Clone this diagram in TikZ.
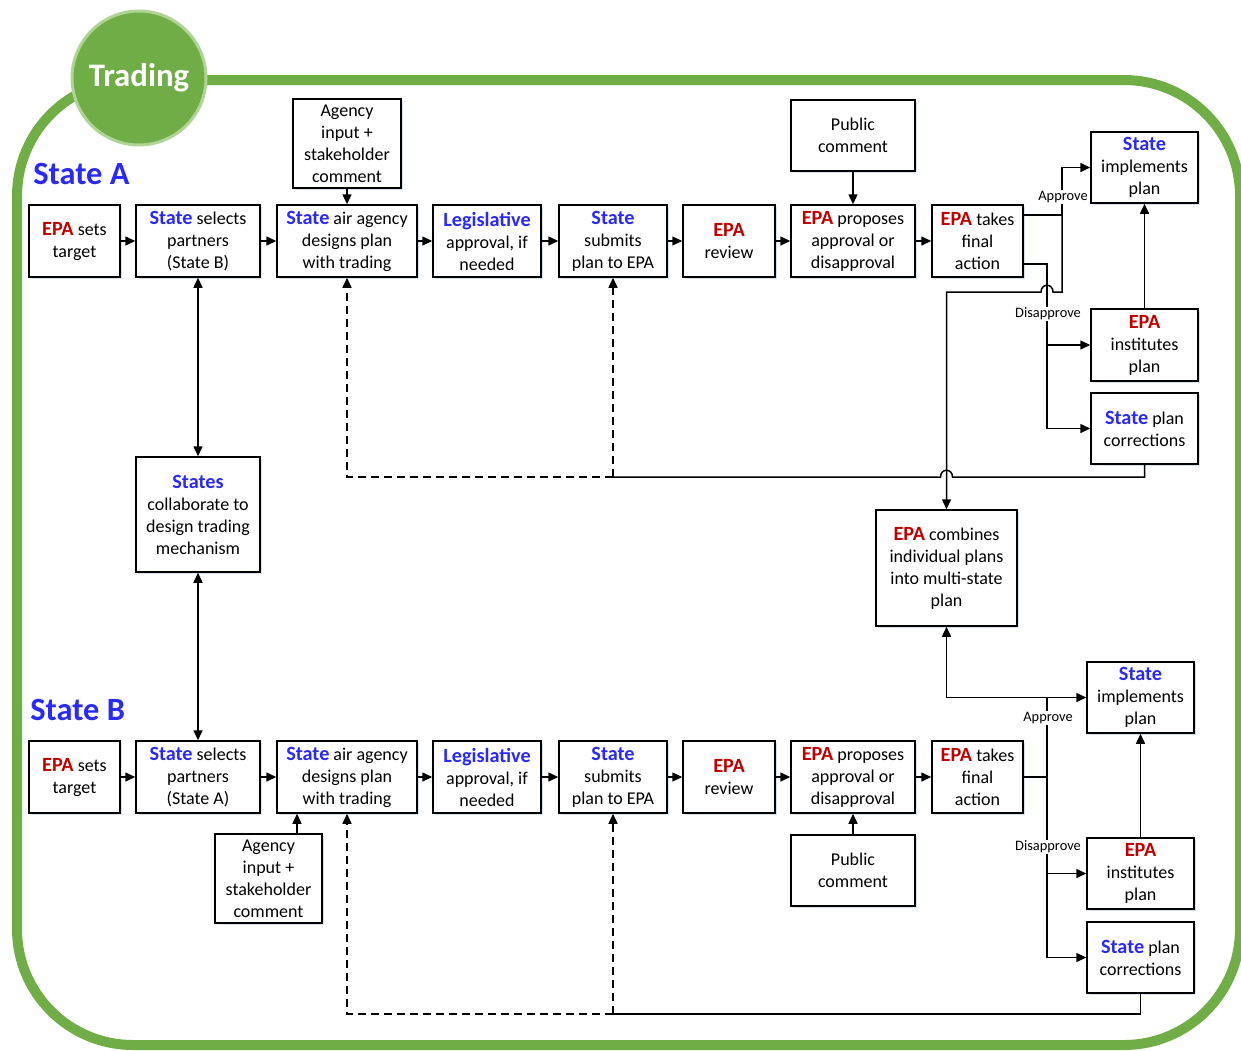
\documentclass[tikz,border=0pt]{standalone}
\usepackage{fontspec}
\setmainfont{Carlito}
\usetikzlibrary{arrows.meta,shadows,calc}
\definecolor{epared}{RGB}{192,0,0}
\definecolor{stblue}{RGB}{40,40,255}
\definecolor{trgreen}{RGB}{112,173,71}
\definecolor{trlight}{RGB}{175,212,150}
\definecolor{shadowc}{RGB}{200,212,230}
\newcommand{\EPAr}{\textcolor{epared}{\fontsize{10.1}{11}\selectfont\textbf{EPA}}}
\newcommand{\BlueB}[1]{\textcolor{stblue}{\fontsize{10.1}{11}\selectfont\textbf{#1}}}
\begin{document}
\begin{tikzpicture}[x=0.5pt,y=-0.5pt,
  box/.style 2 args={draw,line width=0.75pt,fill=white,align=center,inner sep=1pt,
    minimum width=#1*0.5pt,minimum height=#2*0.5pt,font=\fontsize{9}{11}\selectfont,
    drop shadow={shadow xshift=1pt,shadow yshift=-1pt,fill=shadowc,opacity=0.7}},
  ln/.style={line width=0.75pt},
  arr/.style={line width=0.75pt,-{Triangle[length=5pt,width=4.5pt]}},
  dbl/.style={line width=0.75pt,{Triangle[length=5pt,width=4.5pt]}-{Triangle[length=5pt,width=4.5pt]}},
  dsh/.style={line width=0.75pt,dash pattern=on 4pt off 2.5pt,-{Triangle[length=5pt,width=4.5pt]}},
  lbl/.style={fill=white,inner sep=0.5pt,font=\fontsize{7.2}{8}\selectfont},
  title/.style={anchor=west,text=stblue,inner sep=0,font=\fontsize{16.2}{18}\selectfont\bfseries}]
\useasboundingbox (0,0) rectangle (1241,1050);
% frame
\draw[trgreen,line width=5pt,rounded corners=58pt] (17,80) rectangle (1240,1045);
\node[circle,fill=trgreen,draw=trlight,line width=1.5pt,minimum size=134*0.5pt,inner sep=0,
  text=white,font=\fontsize{16.4}{18}\selectfont\bfseries] (trading) at (139,78) {Trading};
\node[title] (labA) at (33,174) {State A};
\node[title] (labB) at (30,710) {State B};
% Row A
\node[box={91}{72}] (a1) at (74.5,241) {\EPAr{} sets\\target};
\node[box={124}{72}] (a2) at (198,241) {\BlueB{State} selects\\partners\\(State B)};
\node[box={140}{72}] (a3) at (347,241) {\BlueB{State} air agency\\designs plan\\with trading};
\node[box={108}{72}] (a4) at (487,241) {\BlueB{Legislative}\\approval, if\\needed};
\node[box={108}{72}] (a5) at (613,241) {\BlueB{State}\\submits\\plan to EPA};
\node[box={92}{72}] (a6) at (729,241) {\EPAr\\review};
\node[box={124}{72}] (a7) at (853,241) {\EPAr{} proposes\\approval or\\disapproval};
\node[box={91}{72}] (a8) at (977.5,241) {\EPAr{} takes\\final\\action};
\node[box={108}{89}] (aAg) at (347,143.5) {Agency\\input +\\stakeholder\\comment};
\node[box={124}{71}] (aPc) at (853,135.5) {Public\\comment};
\node[box={107}{71}] (aImp) at (1144.5,167.5) {\BlueB{State}\\implements\\plan};
\node[box={107}{72}] (aIns) at (1144.5,345) {\EPAr\\institutes\\plan};
\node[box={107}{71}] (aCor) at (1144.5,428.5) {\BlueB{State} plan\\corrections};
\node[box={124}{115}] (coll) at (198,514.5) {\BlueB{States}\\collaborate to\\design trading\\mechanism};
\node[box={141}{116}] (comb) at (946.5,568) {\EPAr{} combines\\individual plans\\into multi-state\\plan};
% Row B
\node[box={91}{72}] (b1) at (74.5,777) {\EPAr{} sets\\target};
\node[box={124}{72}] (b2) at (198,777) {\BlueB{State} selects\\partners\\(State A)};
\node[box={140}{72}] (b3) at (347,777) {\BlueB{State} air agency\\designs plan\\with trading};
\node[box={108}{72}] (b4) at (487,777) {\BlueB{Legislative}\\approval, if\\needed};
\node[box={108}{72}] (b5) at (613,777) {\BlueB{State}\\submits\\plan to EPA};
\node[box={92}{72}] (b6) at (729,777) {\EPAr\\review};
\node[box={124}{72}] (b7) at (853,777) {\EPAr{} proposes\\approval or\\disapproval};
\node[box={91}{72}] (b8) at (977.5,777) {\EPAr{} takes\\final\\action};
\node[box={107}{89}] (bAg) at (268.5,878.5) {Agency\\input +\\stakeholder\\comment};
\node[box={124}{71}] (bPc) at (853,870.5) {Public\\comment};
\node[box={107}{71}] (bImp) at (1140.5,697.5) {\BlueB{State}\\implements\\plan};
\node[box={107}{71}] (bIns) at (1140.5,873.5) {\EPAr\\institutes\\plan};
\node[box={107}{71}] (bCor) at (1140.5,957.5) {\BlueB{State} plan\\corrections};
% row arrows
\foreach \i/\j in {1/2,2/3,3/4,4/5,5/6,6/7,7/8}{
  \draw[arr] (a\i) -- (a\j);
  \draw[arr] (b\i) -- (b\j);
}
\draw[arr] (aAg) -- (a3);
\draw[arr] (aPc) -- (a7);
\draw[arr] ([xshift=14.25pt]bAg.north) -- ([xshift=14.25pt]bAg.north |- b3.south);
\draw[arr] (bPc) -- (b7);
\draw[dbl] (a2) -- (coll);
\draw[dbl] (coll) -- (b2);
% State A decision
\coordinate (apA) at (1062,215);
\coordinate (dA) at (1047,264);
\draw[arr] (a8.east |- apA) -- (apA) |- (aImp.west);
\draw[arr] (apA) -- (1062,292) -- (1053,292) .. controls (1053,283) and (1041,283) .. (1041,292)
  -- (946.5,292) -- (comb.north);
\draw[arr] (a8.east |- dA) -- (dA) |- (aCor.west);
\draw[arr] (dA |- aIns.west) -- (aIns.west);
\draw[arr] (aIns) -- (aImp);
\node[lbl] (apLA) at (1063,197) {Approve};
\node[lbl] (dpLA) at (1048,314) {Disapprove};
\coordinate (fA) at (613,477);
\coordinate (fA2) at (347,477);
\draw[ln] (aCor.south) |- (952.5,477) .. controls (952.5,468) and (940.5,468) .. (940.5,477) -- (fA);
\draw[dsh] (fA) -- (a5.south);
\draw[dsh] (fA) -- (fA2) -- (a3.south);
% State B decision
\coordinate (apB) at (1047,697.5);
\draw[dbl] (comb.south) |- (bImp.west);
\draw[ln] (b8.east) -- (b8.east -| apB);
\draw[arr] (apB) |- (bCor.west);
\draw[arr] (apB |- bIns.west) -- (bIns.west);
\draw[arr] (bIns) -- (bImp);
\node[lbl] (apLB) at (1048,718) {Approve};
\node[lbl] (dpLB) at (1048,847) {Disapprove};
\coordinate (fB) at (613,1014);
\coordinate (fB2) at (347,1014);
\draw[ln] (bCor.south) |- (fB);
\draw[dsh] (fB) -- (b5.south);
\draw[dsh] (fB) -- (fB2) -- (b3.south);
\end{tikzpicture}
\end{document}
